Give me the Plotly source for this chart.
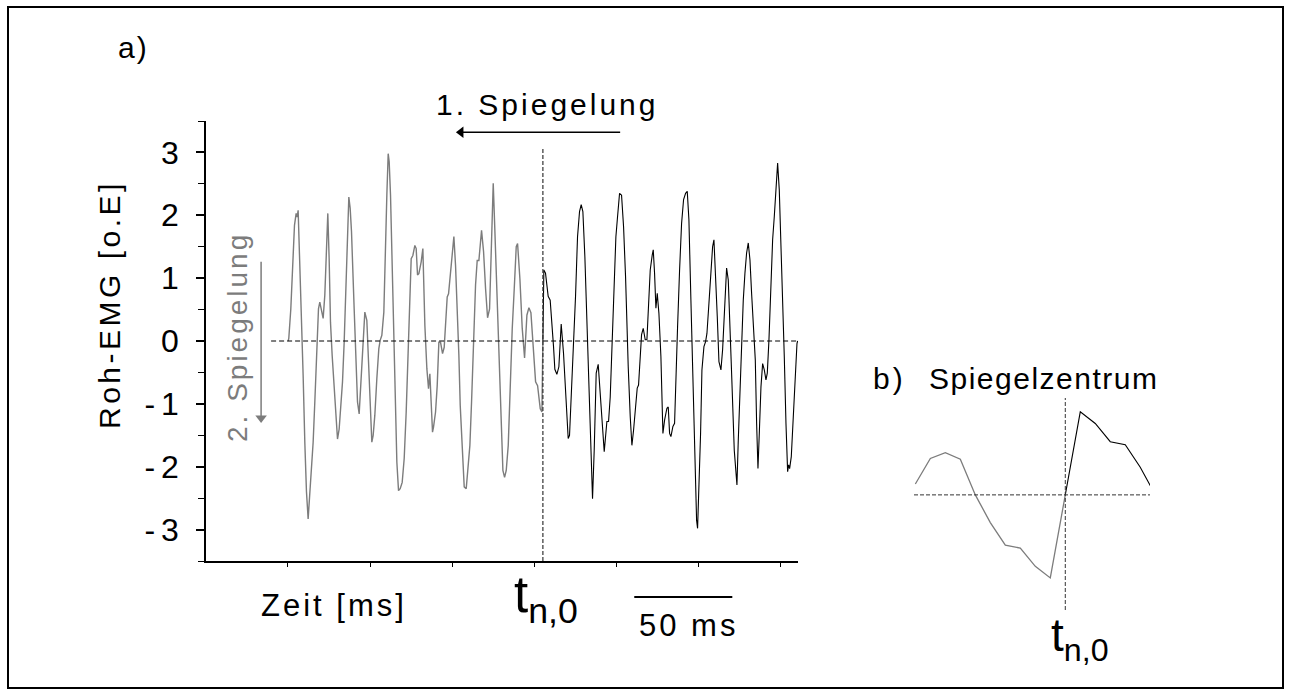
import plotly.graph_objects as go

W, H = 1291, 695
FONT = "Liberation Sans, Arial, sans-serif"
GRAY = "#7c7c7c"

# Roh-EMG nach t_n,0: Zeit in ms, Amplitude in o.E
t_ms = [
    0.49, 1.34, 2.70, 3.72, 4.74, 5.43, 6.10, 7.13, 8.15, 9.34,
    10.53, 11.72, 12.91, 13.59, 14.61, 15.63, 16.65, 17.67, 18.69, 19.54,
    20.39, 21.41, 22.43, 23.45, 24.47, 25.32, 26.17, 27.19, 28.21, 29.23,
    30.25, 31.28, 32.64, 33.49, 34.34, 35.36, 36.38, 37.23, 38.08, 39.10,
    40.12, 41.14, 42.16, 42.84, 43.52, 44.54, 45.39, 46.24, 47.26, 48.11,
    48.79, 49.47, 50.32, 51.17, 52.19, 53.05, 53.89, 54.74, 55.77, 56.28,
    56.95, 57.64, 58.32, 59.17, 60.19, 61.21, 62.06, 63.25, 63.93, 64.61,
    65.29, 66.31, 67.16, 68.01, 68.69, 69.71, 70.73, 71.75, 72.77, 73.62,
    74.47, 75.49, 76.17, 77.02, 77.70, 78.38, 78.89, 79.58, 80.42, 81.11,
    82.13, 82.98, 83.66, 84.68, 85.70, 86.55, 87.23, 88.08, 88.93, 89.78,
    90.80, 91.65, 92.67, 93.69, 94.54, 95.56, 96.24, 97.60, 98.28, 98.96,
    99.64, 100.49, 101.34, 102.19, 103.04, 103.89, 104.74, 105.60, 106.44, 107.46,
    108.32, 109.00, 109.68, 110.36, 111.21, 112.06, 112.91, 113.76, 114.44, 115.29,
    116.31, 117.16, 118.01, 118.86, 119.71, 120.56, 121.41, 122.26, 123.11, 123.96,
    124.81, 125.32, 125.83, 126.68, 127.53, 128.55, 129.58, 129.91,
]
emg = [
    1.13, 1.08, 0.71, 0.65, 0.28, -0.09, -0.45, -0.53, -0.41, 0.27,
    -0.20, -0.99, -1.55, -1.50, -0.83, -0.20, 0.71, 1.66, 2.06, 2.17,
    2.06, 1.34, 0.23, -0.73, -1.74, -2.51, -1.74, -0.51, -0.37, -0.83,
    -1.42, -1.76, -1.28, -1.28, -0.89, 0.02, 0.97, 1.66, 1.98, 2.35,
    2.32, 1.82, 1.02, 0.23, -0.41, -1.20, -1.66, -1.42, -1.05, -0.75,
    -0.70, -0.41, 0.10, 0.20, 0.02, 0.02, 0.71, 1.13, 1.37, 1.45,
    1.08, 0.52, 0.76, 0.44, -0.25, -1.47, -1.26, -1.07, -1.05, -1.47,
    -1.52, -1.36, -1.31, -0.62, 0.23, 1.13, 1.87, 2.25, 2.35, 2.38,
    1.93, 0.65, -0.20, -1.31, -2.32, -2.85, -2.98, -2.32, -1.47, -0.46,
    -0.09, -0.01, 0.12, 0.60, 1.18, 1.50, 1.61, 1.08, 0.39, -0.33,
    -0.46, -0.14, 0.60, 1.16, 0.97, 0.23, -0.51, -1.74, -2.11, -2.29,
    -1.58, -0.83, 0.02, 0.65, 1.08, 1.40, 1.56, 1.29, 0.76, 0.23,
    -0.30, -1.31, -2.03, -1.47, -0.73, -0.36, -0.46, -0.62, -0.51, 0.02,
    0.97, 1.61, 1.98, 2.46, 2.83, 2.40, 1.61, 0.55, -0.25, -1.31,
    -2.08, -1.97, -2.03, -1.84, -1.31, -0.51, -0.04, 0.00,
]

# Ausschnitt b) um das Spiegelzentrum, Abtastschritte von 1 ms
t_detail = [1, 2, 3, 4, 5, 6, 7, 8, 9, 10]
emg_detail = [1.14, 0.98, 0.73, 0.69, 0.38, 0.00, -0.49, -0.58, -0.50, -0.15]

# Spiegelzentrum t_n,0
t_center, v_center = 0.0, 0.0

# Laengenangabe des Zeitmassstabs
SCALE_MS = 50

Y_TICKS = [-3, -2, -1, 0, 1, 2, 3]


def mirror(t, v):
    """1. Spiegelung an t_n,0 (Zeit), 2. Spiegelung an der Nulllinie (Amplitude)."""
    return [2 * t_center - x for x in reversed(t)], [2 * v_center - y for y in reversed(v)]


t_mir, emg_mir = mirror(t_ms, emg)
t_det_mir, emg_det_mir = mirror(t_detail, emg_detail)


def px(x):
    return x / W


def py(y):
    return 1 - y / H


def spaced(text, ls):
    return f'<span style="letter-spacing:{ls}px">{text}</span>'


def tick_label(v):
    # Minuszeichen mit etwas Abstand zur Ziffer
    s = str(v)
    if s.startswith("-"):
        return spaced("-", 6) + s[1:]
    return s


fig = go.Figure()

# a) gespiegelter Abschnitt (grau) und Originalsignal (schwarz)
fig.add_trace(go.Scatter(x=t_mir + [t_center], y=emg_mir + [v_center], mode="lines",
                         line=dict(color=GRAY, width=1.4), xaxis="x", yaxis="y", hoverinfo="skip"))
fig.add_trace(go.Scatter(x=[t_center] + t_ms, y=[v_center] + emg, mode="lines",
                         line=dict(color="black", width=1.1), xaxis="x", yaxis="y", hoverinfo="skip"))

# b) Detail um das Spiegelzentrum
fig.add_trace(go.Scatter(x=t_det_mir + [t_center], y=emg_det_mir + [v_center], mode="lines",
                         line=dict(color=GRAY, width=1.3), xaxis="x2", yaxis="y2", hoverinfo="skip"))
fig.add_trace(go.Scatter(x=[t_center] + t_detail, y=[v_center] + emg_detail, mode="lines",
                         line=dict(color="black", width=1.1), xaxis="x2", yaxis="y2", hoverinfo="skip"))

# Pfeile der beiden Spiegelungen: Schaft als Linie, Spitze als Dreieck
arrow1 = dict(tail=39.4, head=-44.2, y=3.32)
arrow2 = dict(x=-143.7, tail=1.26, head=-1.30)
fig.add_trace(go.Scatter(x=[arrow1["head"] + 2.4], y=[arrow1["y"]], mode="markers",
                         marker=dict(symbol="triangle-left", size=10, color="black", line=dict(width=0)),
                         xaxis="x", yaxis="y", hoverinfo="skip", cliponaxis=False))
fig.add_trace(go.Scatter(x=[arrow2["x"]], y=[arrow2["head"] + 0.075], mode="markers",
                         marker=dict(symbol="triangle-down", size=10, color=GRAY, line=dict(width=0)),
                         xaxis="x", yaxis="y", hoverinfo="skip", cliponaxis=False))

x_lo, x_hi = -171.8, 130.1

shapes = [
    # Rahmen
    dict(type="rect", xref="paper", yref="paper", x0=px(8), x1=px(1283), y0=py(688), y1=py(7),
         line=dict(color="black", width=2)),
    # Nulllinie a)
    dict(type="line", xref="x", yref="y", x0=-138.6, x1=x_hi, y0=0, y1=0,
         line=dict(color="black", width=1, dash="5px,3px")),
    # t_n,0 a)
    dict(type="line", xref="x", yref="y", x0=t_center, x1=t_center, y0=-3.5, y1=3.07,
         line=dict(color="#333333", width=1.2, dash="4px,2px")),
    # Zeitmassstab
    dict(type="line", xref="x", yref="paper", x0=46.6, x1=46.6 + SCALE_MS, y0=py(597), y1=py(597),
         line=dict(color="black", width=2)),
    # Pfeilschaefte
    dict(type="line", xref="x", yref="y", x0=arrow1["tail"], x1=arrow1["head"] + 3, y0=arrow1["y"], y1=arrow1["y"],
         line=dict(color="black", width=1.5)),
    dict(type="line", xref="x", yref="y", x0=arrow2["x"], x1=arrow2["x"], y0=arrow2["tail"], y1=arrow2["head"] + 0.1,
         line=dict(color=GRAY, width=1.5)),
    # Nulllinie und Spiegelachse b)
    dict(type="line", xref="x2 domain", yref="y2", x0=0, x1=1, y0=0, y1=0,
         line=dict(color="#333333", width=1, dash="4px,2px")),
    dict(type="line", xref="x2", yref="y2 domain", x0=t_center, x1=t_center, y0=0, y1=1,
         line=dict(color="#333333", width=1, dash="4px,2px")),
]

txt = dict(family=FONT, size=30, color="black")
annotations = [
    dict(text=spaced("a)", 2), x=px(133), y=py(48), font=txt),
    dict(text=spaced("1. Spiegelung", 3), x=px(547), y=py(104), font=txt),
    dict(text=spaced("Roh-EMG [o.E]", 3.5), x=px(110), y=py(305), textangle=-90, font=txt),
    dict(text=spaced("2. Spiegelung", 3), x=px(237), y=py(337), textangle=-90,
         font=dict(family=FONT, size=28, color=GRAY)),
    dict(text=spaced("Zeit [ms]", 3), x=px(334), y=py(605), font=dict(family=FONT, size=31, color="black")),
    dict(text="t<sub>n,0</sub>", x=px(546), y=py(598), font=dict(family=FONT, size=51, color="black")),
    dict(text=spaced(f"{SCALE_MS} ms", 3), x=px(688), y=py(625), font=dict(family=FONT, size=31, color="black")),
    dict(text=spaced("b)", 3), x=px(889), y=py(378), font=txt),
    dict(text=spaced("Spiegelzentrum", 1.5), x=px(1043), y=py(378), font=txt),
    dict(text="t<sub>n,0</sub>", x=px(1080), y=py(638), font=dict(family=FONT, size=46, color="black")),
]
for a in annotations:
    a.update(xref="paper", yref="paper", showarrow=False, xanchor="center", yanchor="middle")

fig.update_layout(
    width=W, height=H,
    margin=dict(l=0, r=0, t=0, b=0),
    paper_bgcolor="white", plot_bgcolor="white",
    showlegend=False,
    font=dict(family=FONT, color="black"),
    shapes=shapes,
    annotations=annotations,
    xaxis=dict(domain=[px(206), px(798)], range=[x_lo, x_hi], anchor="y",
               showline=True, linecolor="black", linewidth=1.5, mirror=False,
               ticks="outside", tick0=-130.0, dtick=41.9, ticklen=4, tickwidth=1.2, tickcolor="black",
               showticklabels=False, showgrid=False, zeroline=False, automargin=False),
    yaxis=dict(domain=[py(561), py(121)], range=[-3.5, 3.5], anchor="x",
               showline=True, linecolor="black", linewidth=1.5,
               ticks="outside", tickvals=Y_TICKS, ticktext=[tick_label(v) for v in Y_TICKS],
               ticklen=8, tickwidth=1.5, tickcolor="black", ticklabelstandoff=11,
               minor=dict(ticks="outside", dtick=0.5, ticklen=6, tickwidth=1.2, tickcolor="black", showgrid=False),
               tickfont=dict(family=FONT, size=32, color="black"),
               showgrid=False, zeroline=False, automargin=False),
    xaxis2=dict(domain=[px(914), px(1150)], range=[-10.09, 5.65], anchor="y2",
                visible=False, showgrid=False, zeroline=False),
    yaxis2=dict(domain=[py(610), py(398)], range=[-1.58, 1.33], anchor="x2",
                visible=False, showgrid=False, zeroline=False),
)

fig.write_html("out.html")
